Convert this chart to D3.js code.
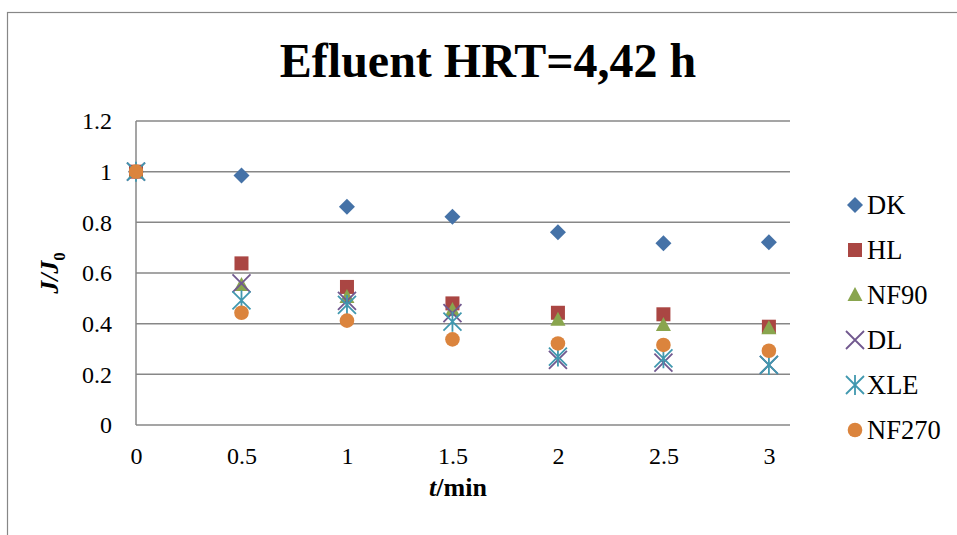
<!DOCTYPE html>
<html>
<head>
<meta charset="utf-8">
<script src="https://cdn.jsdelivr.net/npm/d3@7/dist/d3.min.js"></script>
<style>
  html, body { margin: 0; padding: 0; background: #fff; }
  svg { display: block; }
</style>
</head>
<body>
<svg id="chart" width="957" height="535"></svg>
<script>
// ---- data ----
const times = [0, 0.5, 1, 1.5, 2, 2.5, 3];
const xTicks = [0, 0.5, 1, 1.5, 2, 2.5, 3];
const yTicks = [0, 0.2, 0.4, 0.6, 0.8, 1, 1.2];
const seriesNames = ["DK", "HL", "NF90", "DL", "XLE", "NF270"];
const DK    = [1.0, 0.985, 0.862, 0.822, 0.761, 0.717, 0.721];
const HL    = [1.0, 0.638, 0.545, 0.480, 0.443, 0.437, 0.388];
const NF90  = [1.0, 0.553, 0.505, 0.454, 0.415, 0.395, 0.382];
const DL    = [1.0, 0.559, 0.490, 0.442, 0.257, 0.246, 0.237];
const XLE   = [1.0, 0.492, 0.474, 0.408, 0.270, 0.263, 0.237];
const NF270 = [1.0, 0.443, 0.412, 0.338, 0.322, 0.316, 0.293];
const seriesValues = [DK, HL, NF90, DL, XLE, NF270];
const colors = ["#4572A7", "#AA4643", "#89A54E", "#71588F", "#4198AF", "#DB843D"];
const markers = ["diamond", "square", "triangle", "x", "asterisk", "circle"];

const SERIF = "'Liberation Serif', 'Times New Roman', serif";
const svg = d3.select("#chart").style("font-family", SERIF);

// outer chart border
svg.append("rect")
  .attr("x", 7.5).attr("y", 12.5).attr("width", 1200).attr("height", 1200)
  .attr("fill", "none").attr("stroke", "#878787").attr("stroke-width", 1.2);

const x = d3.scaleLinear().domain([0, 3.1]).range([136, 790]);
const y = d3.scaleLinear().domain([0, 1.2]).range([425, 121]);

// gridlines
svg.append("g")
  .selectAll("line").data(yTicks).join("line")
  .attr("x1", x(0)).attr("x2", x(3.1))
  .attr("y1", d => y(d)).attr("y2", d => y(d))
  .attr("stroke", "#878787").attr("stroke-width", 1.5);

// y axis line
svg.append("line")
  .attr("x1", x(0)).attr("x2", x(0)).attr("y1", y(1.2)).attr("y2", y(0))
  .attr("stroke", "#878787").attr("stroke-width", 1.5);

// y tick labels
const yAxis = d3.axisLeft(y).tickValues(yTicks).tickSize(0).tickPadding(24)
  .tickFormat(d3.format("~g"));
const gy = svg.append("g").attr("transform", `translate(${x(0)},0)`).call(yAxis);
gy.attr("font-family", null).attr("font-size", null);
gy.select(".domain").remove();
gy.selectAll("text").style("font-family", SERIF).style("font-size", "24px")
  .attr("fill", "#000");

// x tick labels
const xAxis = d3.axisBottom(x).tickValues(xTicks).tickSize(0).tickPadding(22)
  .tickFormat(d3.format("~g"));
const gx = svg.append("g").attr("transform", `translate(0,${y(0)})`).call(xAxis);
gx.attr("font-family", null).attr("font-size", null);
gx.select(".domain").remove();
gx.selectAll("text").style("font-family", SERIF).style("font-size", "24px")
  .attr("fill", "#000");

// title
svg.append("text")
  .attr("x", 488).attr("y", 77).attr("text-anchor", "middle")
  .style("font-family", SERIF)
  .style("font-size", "48px").style("font-weight", "bold")
  .text("Efluent HRT=4,42 h");

// x axis title
const xt = svg.append("text")
  .attr("x", 458).attr("y", 496).attr("text-anchor", "middle")
  .style("font-family", SERIF)
  .style("font-size", "26px").style("font-weight", "bold");
xt.append("tspan").style("font-style", "italic").text("t");
xt.append("tspan").text("/min");

// y axis title
const yt = svg.append("text")
  .attr("transform", "translate(58,273) rotate(-90)")
  .attr("text-anchor", "middle")
  .style("font-family", SERIF)
  .style("font-size", "26px").style("font-weight", "bold").style("font-style", "italic");
yt.append("tspan").text("J/J");
yt.append("tspan").attr("dy", 7).style("font-size", "17px").style("font-style", "normal").text("0");

// marker drawing
function drawMarker(g, type, color, cx, cy) {
  if (type === "diamond") {
    g.append("path").attr("d", `M${cx},${cy-8}L${cx+8},${cy}L${cx},${cy+8}L${cx-8},${cy}Z`)
      .attr("fill", color);
  } else if (type === "square") {
    g.append("rect").attr("x", cx - 7).attr("y", cy - 7).attr("width", 14).attr("height", 14)
      .attr("fill", color);
  } else if (type === "triangle") {
    g.append("path").attr("d", `M${cx},${cy-8}L${cx+7.5},${cy+6}L${cx-7.5},${cy+6}Z`)
      .attr("fill", color);
  } else if (type === "circle") {
    g.append("circle").attr("cx", cx).attr("cy", cy).attr("r", 7.3).attr("fill", color);
  } else if (type === "x") {
    g.append("path").attr("d", `M${cx-9},${cy-9}L${cx+9},${cy+9}M${cx+9},${cy-9}L${cx-9},${cy+9}`)
      .attr("stroke", color).attr("stroke-width", 1.8).attr("fill", "none");
  } else if (type === "asterisk") {
    g.append("path").attr("d", `M${cx-9},${cy-9}L${cx+9},${cy+9}M${cx+9},${cy-9}L${cx-9},${cy+9}M${cx},${cy-10}L${cx},${cy+10}`)
      .attr("stroke", color).attr("stroke-width", 1.8).attr("fill", "none");
  }
}

// points
seriesValues.forEach((vals, i) => {
  const g = svg.append("g").attr("class", "series-" + seriesNames[i]);
  vals.forEach((v, j) => {
    if (v == null) return;
    drawMarker(g, markers[i], colors[i], x(times[j]), y(v));
  });
});

// legend
const legendY = d3.scalePoint().domain(seriesNames).range([205, 430]);
seriesNames.forEach((name, i) => {
  const g = svg.append("g").attr("class", "legend-item");
  const cy = legendY(name);
  drawMarker(g, markers[i], colors[i], 855, cy);
  g.append("text").attr("x", 867).attr("y", cy + 9)
    .style("font-family", SERIF)
    .style("font-size", "26.5px").text(name);
});
</script>
</body>
</html>
